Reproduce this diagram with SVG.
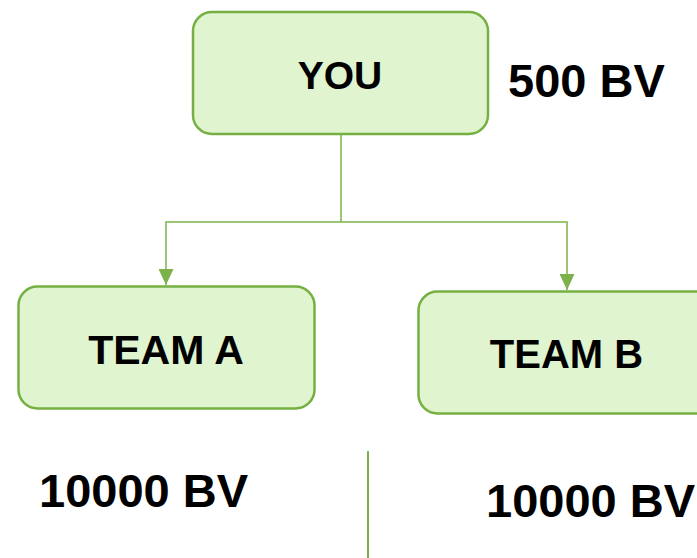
<svg xmlns="http://www.w3.org/2000/svg" width="697" height="558" viewBox="0 0 697 558">
<style>
.node{fill:#dff4cf;stroke:#76b043;stroke-width:2.5}
.lbl{font-family:"Liberation Sans",Arial,sans-serif;font-weight:bold;fill:#000;text-anchor:middle}
.bv{font-family:"Liberation Sans",Arial,sans-serif;font-weight:bold;fill:#000;font-size:47px}
.conn{fill:none;stroke:#7db24a;stroke-width:1.5}
</style>
<defs>
<marker id="arr" viewBox="0 0 16 15" refX="16" refY="7.5" markerWidth="16" markerHeight="15" markerUnits="userSpaceOnUse" orient="auto">
<path d="M0,0 L16,7.5 L0,15 Z" fill="#7db24a"/>
</marker>
</defs>
<g id="connectors">
<path class="conn" d="M341,134 V222"/>
<path class="conn" d="M341,222 H166 V285" marker-end="url(#arr)"/>
<path class="conn" d="M341,222 H567 V290" marker-end="url(#arr)"/>
<path d="M368,451 V558" stroke="#7db24a" stroke-width="2" fill="none"/>
</g>
<g id="you">
<rect class="node" x="193" y="12" width="295" height="122" rx="19"/>
<text class="lbl" x="340" y="89" font-size="39">YOU</text>
</g>
<g id="teamA">
<rect class="node" x="18.5" y="286.5" width="296" height="122" rx="19"/>
<text class="lbl" x="166" y="364" font-size="41">TEAM A</text>
</g>
<g id="teamB">
<rect class="node" x="418.5" y="291.5" width="296" height="122" rx="19"/>
<text class="lbl" x="566.5" y="368" font-size="40">TEAM B</text>
</g>
<g id="bvlabels">
<text class="bv" x="508" y="97">500 BV</text>
<text class="bv" x="39" y="507">10000 BV</text>
<text class="bv" x="486" y="517">10000 BV</text>
</g>
</svg>
